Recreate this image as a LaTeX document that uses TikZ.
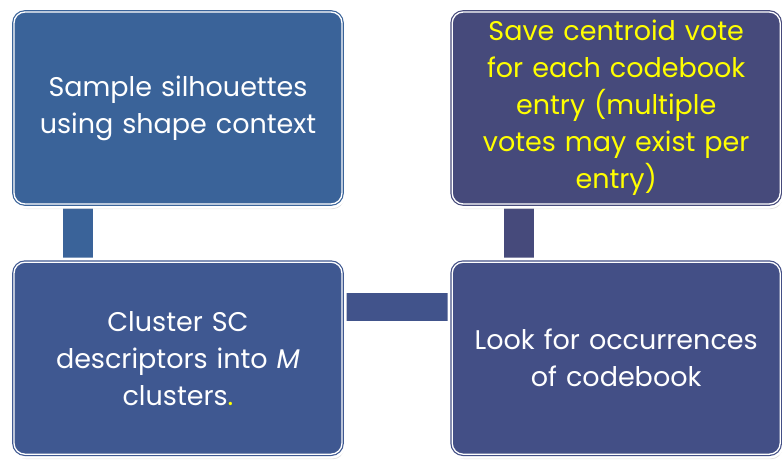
\documentclass[tikz,border=0pt]{standalone}
\usepackage{fontspec}
\setmainfont{Poppins}
\usepackage{tikz}
\usetikzlibrary{calc,positioning,shadows,backgrounds}
\definecolor{stepA}{HTML}{3A6399}
\definecolor{stepB}{HTML}{3F5891}
\definecolor{stepC}{HTML}{434F86}
\definecolor{stepD}{HTML}{464A7B}
\definecolor{voteyellow}{HTML}{FFFF00}
\tikzstyle{block} = [rectangle, rounded corners=11pt, minimum width=328pt, minimum height=192pt, text width=310pt, align=center, text=white, font=\fontsize{27}{37}\selectfont, line width=1.2pt, double=white, double distance=1.3pt, drop shadow={shadow xshift=2pt, shadow yshift=-5pt, opacity=0.25}, preaction={draw=white, line width=9pt}]
\tikzstyle{bar} = [line width=30pt]

\begin{document}
\begin{tikzpicture}[x=1pt,y=1pt]
      \useasboundingbox (0,0) rectangle (782,-461);
      \node[block, fill=stepA, draw=stepA] (sample) at (178,-108) {Sample silhouettes\\using shape context};
      \node[block, fill=stepB, draw=stepB, below=57pt of sample] (cluster) {Cluster SC\\descriptors into \textit{M}\\clusters\textcolor{voteyellow}{.}};
      \node[block, fill=stepC, draw=stepC, right=109pt of cluster] (look) {Look for occurrences\\of codebook};
      \node[block, fill=stepD, draw=stepD, text=voteyellow, above=57pt of look] (save) {Save centroid vote\\for each codebook\\entry (multiple\\votes may exist per\\entry)};
      %
      \begin{scope}[on background layer]
        \draw[bar, stepA] ([xshift=-100pt]sample.south) -- ([xshift=-100pt]cluster.north);
        \draw[bar, stepD] ([xshift=-97pt]save.south) -- ([xshift=-97pt]look.north);
        \draw[bar, line width=28pt, stepB!50!stepC] ([yshift=51pt]cluster.east) -- ([yshift=51pt]look.west);
      \end{scope}
    \end{tikzpicture}
\end{document}
